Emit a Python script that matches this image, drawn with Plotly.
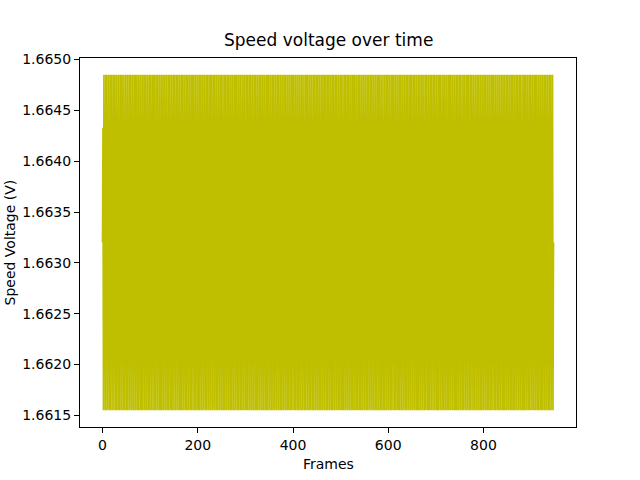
import plotly.graph_objects as go

# Quantised voltage levels (V)
LEVELS = [1.66155, 1.66212, 1.66320, 1.66433, 1.66485]

# Level index per frame (estimated from the dense oscillation in the picture)
CODE_LINES = [
    "304130414031403041403140413040314030414041304031403041304140",
    "314030414041304031403040413041403140304140314041403041403140",
    "304041304140314030414030403140413041403140304041403140304140",
    "314030414041304031403040413041403140304140314041403041403140",
    "304130414031403041403140413040314030414041304031403041304140",
    "304041304140314030414030403140413041403140304041403140304140",
    "304130414031403041403140413040314030414041304031403041304140",
    "314030414041304031403040413041403140304140314041403041403140",
    "304041304140314030414030403140413041403140304041403140304140",
    "304130414031403041403140413040314030414041304031403041304140",
    "314030414041304031403040413041403140304140314041403041403140",
    "304041304140314030414030403140413041403140304041403140304140",
    "314030414041304031403040413041403140304140314041403041403140",
    "304130414031403041403140413040314030414041304031403041304140",
    "304041304140314030414030403140413041403140304041403140304140",
    "3140304140413040314030404130414031403041403140",
]
START_CODE = "2"
END_CODE = "2"

codes = START_CODE + "".join(CODE_LINES) + END_CODE
voltage = [LEVELS[int(c)] for c in codes]
frames = list(range(len(voltage)))

X_TICKS = [0, 200, 400, 600, 800]
Y_TICKS = [1.6615, 1.6620, 1.6625, 1.6630, 1.6635, 1.6640, 1.6645, 1.6650]

n = len(frames) - 1
xpad = 0.05 * n
ymin, ymax = min(voltage), max(voltage)
ypad = 0.05 * (ymax - ymin)

fig = go.Figure()
fig.add_trace(go.Scatter(
    x=frames, y=voltage, mode="lines",
    line=dict(color="#bfbf00", width=1.75),
    showlegend=False, hoverinfo="skip",
))

font = dict(family="DejaVu Sans", size=14, color="black")
fig.update_layout(
    width=640, height=480,
    margin=dict(l=80, r=64, t=58, b=53),
    paper_bgcolor="white", plot_bgcolor="white",
    font=font,
    xaxis=dict(
        range=[-xpad, n + xpad], tickvals=X_TICKS,
        showgrid=False, zeroline=False,
        showline=True, mirror=True, linecolor="black", linewidth=1,
        ticks="outside", ticklen=5, tickcolor="black", tickwidth=1,
        tickfont=font,
    ),
    yaxis=dict(
        range=[ymin - ypad, ymax + ypad], tickvals=Y_TICKS,
        tickformat=".4f",
        showgrid=False, zeroline=False,
        showline=True, mirror=True, linecolor="black", linewidth=1,
        ticks="outside", ticklen=5, tickcolor="black", tickwidth=1,
        tickfont=font,
    ),
    annotations=[
        dict(text="Speed voltage over time", xref="paper", yref="paper",
             x=0.5, y=1, yanchor="bottom", xanchor="center", yshift=6,
             showarrow=False, font=dict(family="DejaVu Sans", size=17, color="black")),
        dict(text="Frames", xref="paper", yref="paper",
             x=0.5, y=0, yanchor="top", xanchor="center", yshift=-27,
             showarrow=False, font=font),
        dict(text="Speed Voltage (V)", xref="paper", yref="paper",
             x=0, y=0.5, xanchor="center", yanchor="middle", xshift=-71,
             textangle=-90, showarrow=False, font=font),
    ],
)

fig.write_html("out.html", config={"displayModeBar": False},
               post_script="document.body.style.margin='0';")
